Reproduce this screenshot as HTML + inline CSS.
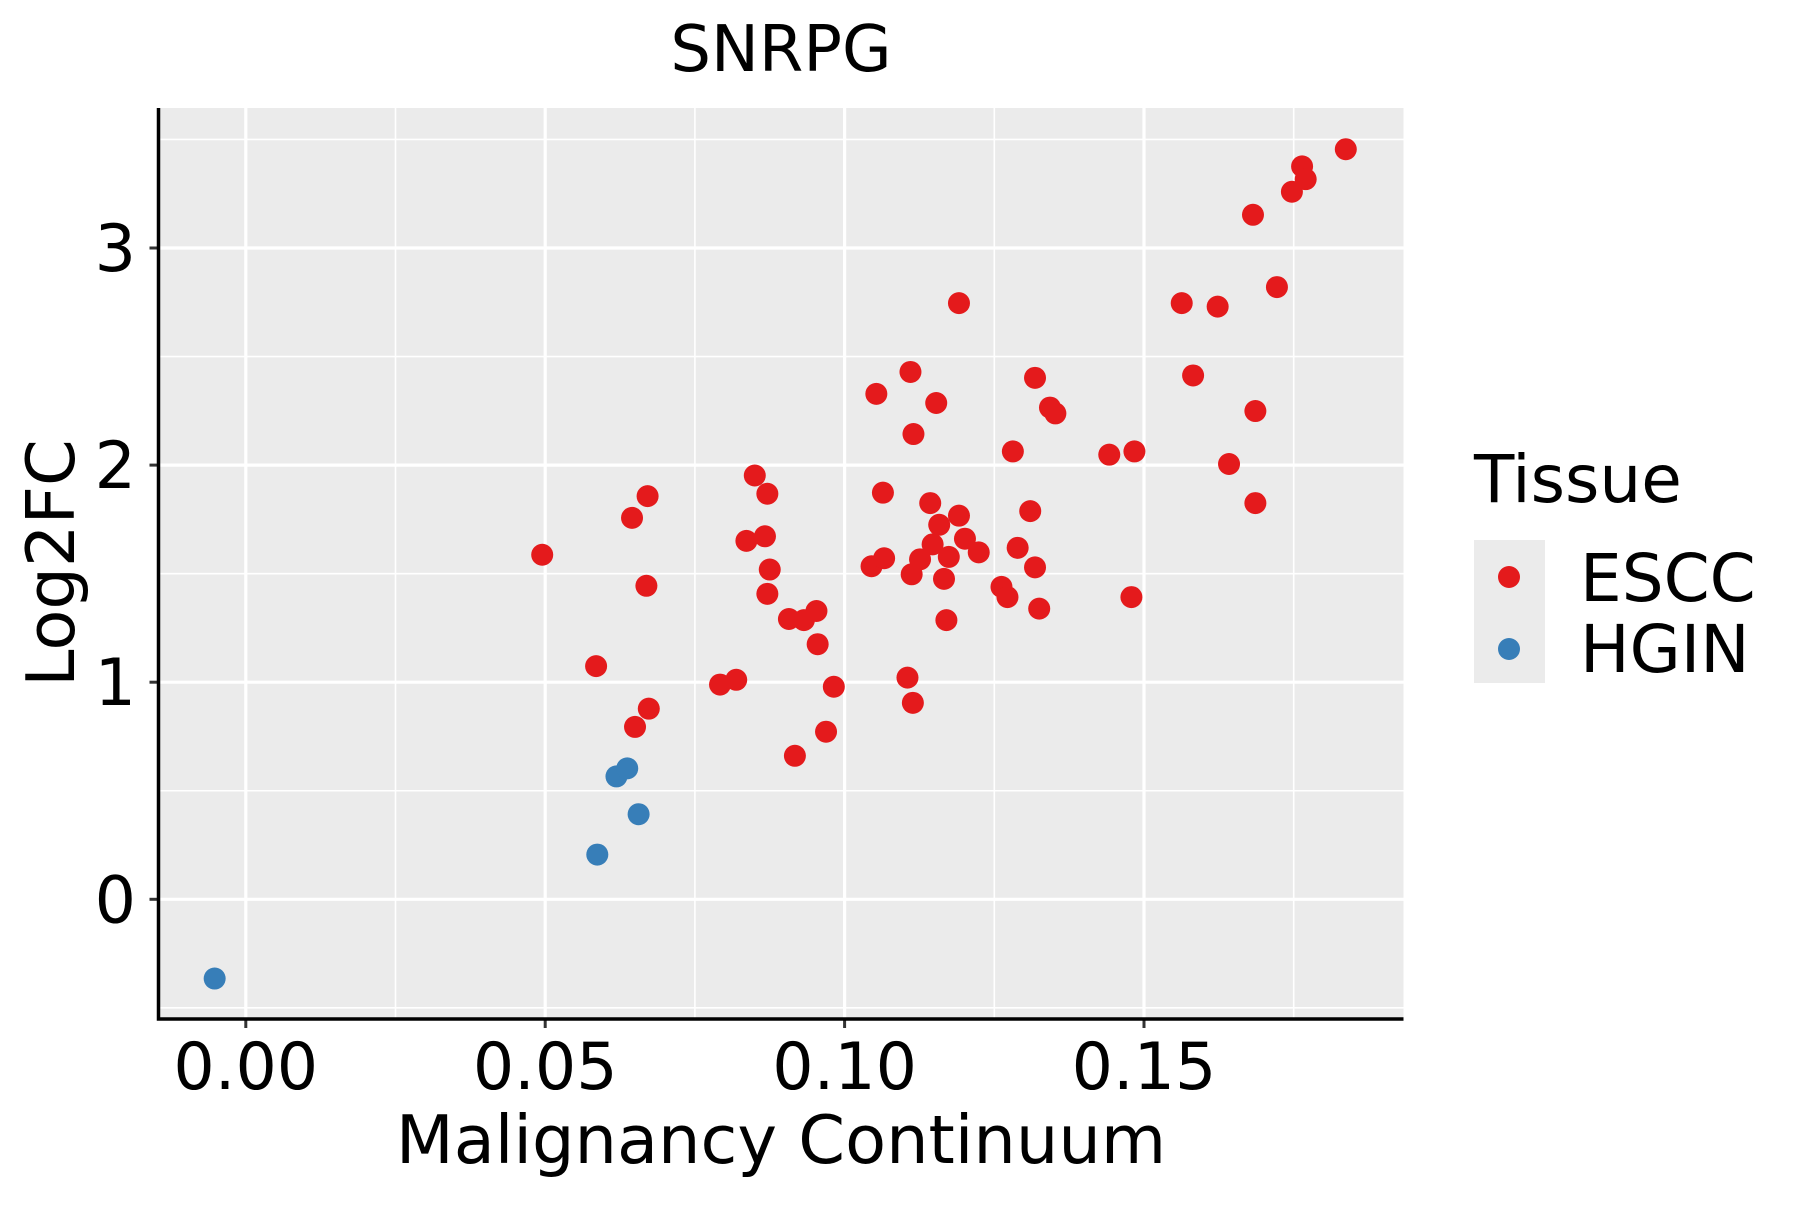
<!DOCTYPE html>
<html><head><meta charset="utf-8"><style>
body{margin:0;background:#fff}
svg text{font-family:"DejaVu Sans","Liberation Sans",sans-serif;fill:#000}
</style></head><body>
<svg id="chart" width="1800" height="1200" viewBox="0 0 1800 1200" xmlns="http://www.w3.org/2000/svg">
<text x="781" y="71" font-size="64" text-anchor="middle">SNRPG</text>
<rect x="158.5" y="108" width="1245" height="911" fill="#EBEBEB"/>
<g id="grid"></g>
<g id="points"></g>
<g id="axes"></g>
<text x="781" y="1163" font-size="67" text-anchor="middle">Malignancy Continuum</text>
<text transform="translate(74,563) rotate(-90)" font-size="67" text-anchor="middle">Log2FC</text>
<g>
<text x="1474" y="502" font-size="66">Tissue</text>
<rect x="1474" y="540" width="71" height="143" fill="#EBEBEB"/>
<circle cx="1509" cy="577" r="11" fill="#E41A1C"/>
<circle cx="1509" cy="649" r="11" fill="#377EB8"/>
<text x="1580" y="601" font-size="66">ESCC</text>
<text x="1580" y="672" font-size="66">HGIN</text>
</g>
</svg>
<script>
const xTicks=[0,0.05,0.10,0.15];
const xTickLabels=["0.00","0.05","0.10","0.15"];
const xMinor=[-0.025,0.025,0.075,0.125,0.175];
const yTicks=[0,1,2,3];
const yTickLabels=["0","1","2","3"];
const yMinor=[-0.5,0.5,1.5,2.5,3.5];
const esccX=[.0495,.0585,.0645,.0671,.0669,.065,.0673,.0792,.0819,.085,.0871,.0836,.0867,.0875,.0871,.0907,.0932,.0953,.0955,.0982,.0969,.0917,.1053,.111,.1115,.1153,.1191,.1064,.1045,.1066,.1143,.1158,.1191,.1147,.1126,.1112,.1174,.1166,.1201,.1224,.117,.1105,.1114,.1281,.1318,.1343,.1352,.131,.1289,.1318,.1262,.1272,.1325,.1442,.1484,.1479,.1563,.1623,.1582,.1642,.1686,.1686,.1682,.1722,.1747,.1764,.177,.1837];
const esccY=[1.587,1.074,1.757,1.857,1.444,0.794,0.878,0.989,1.011,1.952,1.868,1.651,1.672,1.519,1.407,1.291,1.286,1.328,1.175,0.979,0.772,0.661,2.328,2.429,2.143,2.286,2.746,1.873,1.534,1.571,1.825,1.725,1.767,1.635,1.566,1.497,1.577,1.476,1.661,1.598,1.286,1.021,0.905,2.063,2.402,2.265,2.238,1.788,1.619,1.529,1.439,1.392,1.339,2.048,2.063,1.392,2.746,2.730,2.413,2.005,2.249,1.825,3.153,2.820,3.259,3.376,3.317,3.455];
const hginX=[-.0052,.0587,.0619,.0637,.0656];
const hginY=[-0.365,0.206,0.566,0.603,0.392];
const NS="http://www.w3.org/2000/svg";
const X0=245.8,XS=299.4/0.05,Y0=899.3,YS=217.1;
const PL=158.5,PR=1403.5,PT=108,PB=1019;
const xs=v=>X0+v*XS, ys=v=>Y0-v*YS;
function mk(t,a,p){const e=document.createElementNS(NS,t);for(const k in a)e.setAttribute(k,a[k]);p.appendChild(e);return e;}
const grid=document.getElementById('grid'),pts=document.getElementById('points'),axes=document.getElementById('axes');
xMinor.forEach(v=>{const l=mk('line',{x1:xs(v),x2:xs(v),y1:PT,y2:PB,stroke:'#fff','stroke-width':1.6},grid);

});
yMinor.forEach(v=>{const l=mk('line',{x1:PL,x2:PR,y1:ys(v),y2:ys(v),stroke:'#fff','stroke-width':1.6},grid);

});
xTicks.forEach((v,i)=>{const l=mk('line',{x1:xs(v),x2:xs(v),y1:PT,y2:PB,stroke:'#fff','stroke-width':3.2},grid);


const t=mk('line',{x1:xs(v),x2:xs(v),y1:PB,y2:PB+9,stroke:'#333','stroke-width':3},axes);


const tx=mk('text',{x:xs(v),y:1089,'font-size':65,'text-anchor':'middle'},axes);tx.textContent=xTickLabels[i];

});
yTicks.forEach((v,i)=>{const l=mk('line',{x1:PL,x2:PR,y1:ys(v),y2:ys(v),stroke:'#fff','stroke-width':3.2},grid);


const t=mk('line',{x1:PL-9,x2:PL,y1:ys(v),y2:ys(v),stroke:'#333','stroke-width':3},axes);


const tx=mk('text',{x:136,y:ys(v)+23,'font-size':65,'text-anchor':'end'},axes);tx.textContent=yTickLabels[i];

});
const ax=mk('path',{d:`M${PL},${PT} V${PB} H${PR}`,fill:'none',stroke:'#000','stroke-width':3.5},axes);


esccX.forEach((v,i)=>{const c=mk('circle',{cx:xs(v),cy:ys(esccY[i]),r:11,fill:'#E41A1C'},pts);

});
hginX.forEach((v,i)=>{const c=mk('circle',{cx:xs(v),cy:ys(hginY[i]),r:11,fill:'#377EB8'},pts);

});
</script>
</body></html>
